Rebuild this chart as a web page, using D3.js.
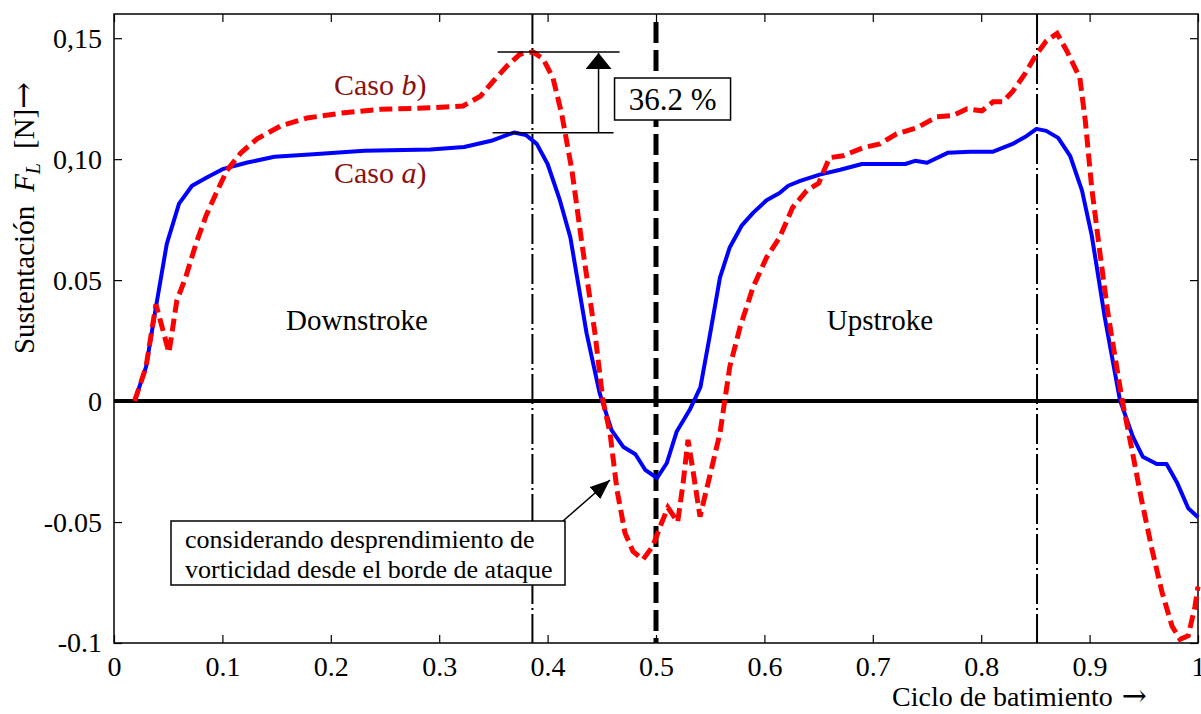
<!DOCTYPE html>
<html>
<head>
<meta charset="utf-8">
<script src="https://cdn.jsdelivr.net/npm/d3@7"></script>
<style>
  body { margin: 0; background: #fff; }
  svg { display: block; font-family: 'Liberation Serif', 'Times New Roman', serif; }
</style>
</head>
<body>
<svg id="chart"></svg>
<script>
'use strict'

// ciclo de batimiento (x) y sustentacion (y) para cada caso
const casoAx = [0.019, 0.0295, 0.0387, 0.0487, 0.060, 0.072, 0.0856, 0.101, 0.123, 0.148, 0.184, 0.231, 0.292, 0.323, 0.348, 0.369, 0.38, 0.39, 0.400, 0.411, 0.421, 0.436, 0.448, 0.459, 0.470, 0.481, 0.490, 0.501, 0.510, 0.519, 0.531, 0.541, 0.550, 0.559, 0.568, 0.579, 0.590, 0.602, 0.614, 0.622, 0.633, 0.651, 0.670, 0.690, 0.730, 0.739, 0.750, 0.769, 0.790, 0.811, 0.829, 0.842, 0.851, 0.860, 0.871, 0.882, 0.893, 0.902, 0.914, 0.928, 0.940, 0.949, 0.962, 0.971, 0.981, 0.991, 1.0]
const casoAy = [0.0, 0.014, 0.0389, 0.065, 0.0816, 0.089, 0.0924, 0.096, 0.0986, 0.101, 0.102, 0.1035, 0.104, 0.105, 0.1076, 0.111, 0.110, 0.1063, 0.098, 0.0835, 0.0676, 0.028, 0.0033, -0.012, -0.019, -0.022, -0.0284, -0.0318, -0.0256, -0.0127, -0.0037, 0.0058, 0.028, 0.051, 0.0635, 0.0725, 0.078, 0.083, 0.086, 0.089, 0.091, 0.0936, 0.0956, 0.098, 0.098, 0.0993, 0.0985, 0.1026, 0.1031, 0.1031, 0.1063, 0.1096, 0.1125, 0.1117, 0.1088, 0.1014, 0.087, 0.0684, 0.0346, 0.0004, -0.0148, -0.023, -0.026, -0.026, -0.034, -0.0443, -0.048]

const casoBx = [0.019, 0.0295, 0.0387, 0.0507, 0.058, 0.066, 0.0756, 0.085, 0.094, 0.104, 0.117, 0.132, 0.154, 0.178, 0.209, 0.246, 0.292, 0.322, 0.338, 0.350, 0.3625, 0.3745, 0.3866, 0.396, 0.405, 0.413, 0.4225, 0.4317, 0.4437, 0.451, 0.4576, 0.464, 0.4714, 0.4788, 0.488, 0.497, 0.5055, 0.511, 0.520, 0.525, 0.5295, 0.534, 0.5406, 0.548, 0.559, 0.568, 0.5775, 0.5895, 0.602, 0.614, 0.626, 0.639, 0.650, 0.660, 0.6725, 0.691, 0.7066, 0.722, 0.7408, 0.759, 0.774, 0.787, 0.8007, 0.811, 0.820, 0.829, 0.840, 0.851, 0.860, 0.870, 0.879, 0.891, 0.896, 0.902, 0.9096, 0.917, 0.930, 0.939, 0.948, 0.9576, 0.9668, 0.976, 0.9834, 0.991, 0.9972, 1.0]
const casoBy = [0.0, 0.014, 0.040, 0.020, 0.0416, 0.051, 0.065, 0.0767, 0.0857, 0.0952, 0.1026, 0.1084, 0.1138, 0.117, 0.119, 0.1206, 0.1212, 0.122, 0.126, 0.1323, 0.1385, 0.1434, 0.1443, 0.1414, 0.1335, 0.1187, 0.0952, 0.065, 0.028, 0.0004, -0.0133, -0.0367, -0.0545, -0.0622, -0.0655, -0.060, -0.050, -0.044, -0.050, -0.034, -0.016, -0.0284, -0.0478, -0.034, -0.0133, 0.014, 0.0305, 0.047, 0.0594, 0.0676, 0.080, 0.087, 0.090, 0.1006, 0.1014, 0.1047, 0.1063, 0.1105, 0.113, 0.1175, 0.118, 0.1208, 0.120, 0.1237, 0.1237, 0.128, 0.135, 0.1434, 0.1488, 0.152, 0.1447, 0.1336, 0.116, 0.088, 0.061, 0.036, 0.0004, -0.020, -0.041, -0.0614, -0.079, -0.093, -0.0985, -0.097, -0.085, -0.0767]

const xTicks = [0, 0.1, 0.2, 0.3, 0.4, 0.5, 0.6, 0.7, 0.8, 0.9, 1]
const xTickLabels = ['0', '0.1', '0.2', '0.3', '0.4', '0.5', '0.6', '0.7', '0.8', '0.9', '1']
const yTicks = [-0.1, -0.05, 0, 0.05, 0.10, 0.15]
const yTickLabels = ['-0.1', '-0.05', '0', '0.05', '0,10', '0,15']

// picos marcados (dash-dot) y mitad del ciclo
const peakLines = [0.386, 0.8515]
const halfCycle = [0.5]
// diferencia entre picos: x de la flecha, nivel caso a, nivel caso b
const diffArrowX = [0.447]
const diffLevels = [0.1109, 0.1443]
const diffLabel = '36.2 %'

const width = 1201
const height = 714
const margin = { top: 14, right: 3, bottom: 71, left: 114 }
const fontSize = 28
const serif = "'Liberation Serif', 'Times New Roman', serif"

const svg = d3.select('#chart').attr('width', width).attr('height', height)

const x = d3.scaleLinear().domain([0, 1]).range([margin.left, width - margin.right])
const y = d3.scaleLinear().domain([-0.1, 0.16]).range([height - margin.bottom, margin.top])

const [x0, x1] = x.range()
const [y0, y1] = y.range()

// axes: ticks hacia adentro en los cuatro lados
const xFmt = (d) => xTickLabels[xTicks.indexOf(d)]
const yFmt = (d) => yTickLabels[yTicks.indexOf(d)]

const styleAxis = (g) => {
  g.select('.domain').remove()
  g.selectAll('line').attr('stroke', '#000').attr('stroke-width', 1.2)
  g.selectAll('text').attr('font-size', fontSize).attr('fill', '#000')
    .attr('font-family', serif)
}

svg.append('g').attr('transform', `translate(0,${y0})`)
  .call(d3.axisBottom(x).tickValues(xTicks).tickFormat(xFmt).tickSizeInner(-8).tickSizeOuter(0).tickPadding(13))
  .call(styleAxis)
svg.append('g').attr('transform', `translate(0,${y1})`)
  .call(d3.axisTop(x).tickValues(xTicks).tickFormat('').tickSizeInner(-8).tickSizeOuter(0))
  .call(styleAxis)
svg.append('g').attr('transform', `translate(${x0},0)`)
  .call(d3.axisLeft(y).tickValues(yTicks).tickFormat(yFmt).tickSizeInner(-8).tickSizeOuter(0).tickPadding(12))
  .call(styleAxis)
svg.append('g').attr('transform', `translate(${x1},0)`)
  .call(d3.axisRight(y).tickValues(yTicks).tickFormat('').tickSizeInner(-8).tickSizeOuter(0))
  .call(styleAxis)

// marco
svg.append('rect')
  .attr('x', x0).attr('y', y1)
  .attr('width', x1 - x0).attr('height', y0 - y1)
  .attr('fill', 'none').attr('stroke', '#000').attr('stroke-width', 1.5)

// linea cero
svg.append('line')
  .attr('x1', x0).attr('x2', x1).attr('y1', y(0)).attr('y2', y(0))
  .attr('stroke', '#000').attr('stroke-width', 4)

svg.selectAll('.peak').data(peakLines).enter().append('line')
  .attr('class', 'peak')
  .attr('x1', (d) => x(d)).attr('x2', (d) => x(d))
  .attr('y1', y1).attr('y2', y0)
  .attr('stroke', '#000').attr('stroke-width', 2)
  .attr('stroke-dasharray', '30,4,2,4')

svg.selectAll('.half').data(halfCycle).enter().append('line')
  .attr('class', 'half')
  .attr('x1', (d) => x(d)).attr('x2', (d) => x(d))
  .attr('y1', y1 + 8).attr('y2', y0)
  .attr('stroke', '#000').attr('stroke-width', 5)
  .attr('stroke-dasharray', '21,7')

const line = d3.line().x((d) => x(d[0])).y((d) => y(d[1]))

svg.append('path')
  .datum(d3.zip(casoAx, casoAy))
  .attr('d', line)
  .attr('fill', 'none').attr('stroke', '#0000ff').attr('stroke-width', 4)
  .attr('stroke-linejoin', 'round')

svg.append('path')
  .datum(d3.zip(casoBx, casoBy))
  .attr('d', line)
  .attr('fill', 'none').attr('stroke', '#ff0000').attr('stroke-width', 5)
  .attr('stroke-dasharray', '13,6')

// flechas
const defs = svg.append('defs')
defs.append('marker')
  .attr('id', 'head').attr('viewBox', '0 0 10 10')
  .attr('refX', 10).attr('refY', 5)
  .attr('markerUnits', 'userSpaceOnUse')
  .attr('markerWidth', 16).attr('markerHeight', 26)
  .attr('orient', 'auto').attr('preserveAspectRatio', 'none')
  .append('path').attr('d', 'M0,0L10,5L0,10Z').attr('fill', '#000')
defs.append('marker')
  .attr('id', 'head2').attr('viewBox', '0 0 10 10')
  .attr('refX', 10).attr('refY', 5)
  .attr('markerUnits', 'userSpaceOnUse')
  .attr('markerWidth', 20).attr('markerHeight', 16)
  .attr('orient', 'auto').attr('preserveAspectRatio', 'none')
  .append('path').attr('d', 'M0,0L10,5L0,10Z').attr('fill', '#000')

// cotas de la diferencia de picos
const ax = x(diffArrowX[0])
svg.append('line')
  .attr('x1', ax - 106).attr('x2', ax + 15)
  .attr('y1', y(diffLevels[0])).attr('y2', y(diffLevels[0]))
  .attr('stroke', '#000').attr('stroke-width', 1.5)
svg.append('line')
  .attr('x1', ax - 101).attr('x2', ax + 21)
  .attr('y1', y(diffLevels[1])).attr('y2', y(diffLevels[1]))
  .attr('stroke', '#000').attr('stroke-width', 1.5)
svg.append('line')
  .attr('x1', ax).attr('x2', ax)
  .attr('y1', y(diffLevels[0])).attr('y2', y(diffLevels[1]) + 1)
  .attr('stroke', '#000').attr('stroke-width', 1.5)
  .attr('marker-end', 'url(#head)')

const pct = svg.append('g').attr('transform', `translate(${ax + 16},78)`)
pct.append('rect').attr('width', 116).attr('height', 42)
  .attr('fill', '#fff').attr('stroke', '#000').attr('stroke-width', 1.5)
pct.append('text').attr('x', 58).attr('y', 32)
  .attr('text-anchor', 'middle').attr('font-size', 31)
  .text(diffLabel)

// etiquetas de los casos
const casoLabel = (lx, ly, letter) => {
  const t = svg.append('text').attr('x', lx).attr('y', ly)
    .attr('font-size', 30).attr('fill', '#8b1010')
  t.append('tspan').text('Caso ')
  t.append('tspan').attr('font-style', 'italic').text(letter)
  t.append('tspan').text(')')
}
casoLabel(334, 95, 'b')
casoLabel(334, 183, 'a')

svg.append('text').attr('x', 357).attr('y', 330)
  .attr('text-anchor', 'middle').attr('font-size', 29).text('Downstroke')
svg.append('text').attr('x', 880).attr('y', 330)
  .attr('text-anchor', 'middle').attr('font-size', 29).text('Upstroke')

// nota sobre desprendimiento de vorticidad
svg.append('line')
  .attr('x1', 563).attr('x2', 610).attr('y1', 521).attr('y2', 480)
  .attr('stroke', '#000').attr('stroke-width', 1.5)
  .attr('marker-end', 'url(#head2)')
const note = svg.append('g').attr('transform', 'translate(171,521)')
note.append('rect').attr('width', 394).attr('height', 64)
  .attr('fill', '#fff').attr('stroke', '#000').attr('stroke-width', 1.5)
note.append('text').attr('x', 14).attr('y', 27).attr('font-size', 26)
  .text('considerando desprendimiento de')
note.append('text').attr('x', 14).attr('y', 57).attr('font-size', 26)
  .text('vorticidad desde el borde de ataque')

// titulos de ejes
const xl = svg.append('text').attr('x', 892).attr('y', 706)
  .attr('font-size', 28)
xl.append('tspan').text('Ciclo de batimiento')
xl.append('tspan').attr('dx', 9).attr('font-family', 'DejaVu Serif').attr('font-size', 30).text('→')

const yl = svg.append('text')
  .attr('transform', 'translate(34,218) rotate(-90)')
  .attr('text-anchor', 'middle').attr('font-size', 29)
yl.append('tspan').text('Sustentación')
yl.append('tspan').attr('dx', 14).attr('font-style', 'italic').text('F')
yl.append('tspan').attr('font-style', 'italic').attr('font-size', 20).attr('dy', 6).text('L')
yl.append('tspan').attr('dx', 14).attr('dy', -6).text('[N]')
yl.append('tspan').attr('font-family', 'DejaVu Serif').attr('font-size', 32).text('→')
</script>
</body>
</html>
